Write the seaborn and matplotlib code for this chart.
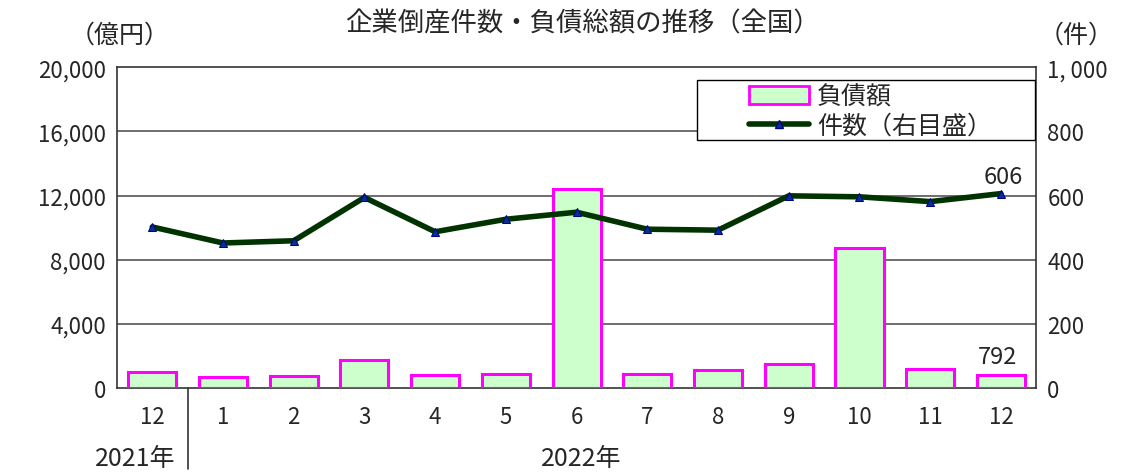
import numpy as np
import pandas as pd
import matplotlib
matplotlib.use("Agg")
import matplotlib.pyplot as plt
import seaborn as sns
from matplotlib.patches import Patch, Rectangle
from matplotlib.lines import Line2D

months = ["12", "1", "2", "3", "4", "5", "6", "7", "8", "9", "10", "11", "12"]
debt = [980, 700, 750, 1725, 830, 900, 12400, 870, 1120, 1475, 8700, 1180, 792]
counts = [502, 452, 459, 594, 487, 526, 548, 495, 492, 599, 596, 581, 606]
left_ticks = [0, 4000, 8000, 12000, 16000, 20000]
right_ticks = [0, 200, 400, 600, 800, 1000]

sns.set_theme(style="white")
plt.rcParams['font.family'] = ['Noto Sans CJK JP', 'DejaVu Sans']

df = pd.DataFrame({"month": [f"{i}" for i in range(len(months))], "debt": debt,
                   "pos": np.arange(len(months)), "count": counts})

fig = plt.figure(figsize=(11.35, 4.77), dpi=100)
ax = fig.add_axes([0.103, 0.1845, 0.810, 0.6725])

sns.barplot(data=df, x="month", y="debt", ax=ax, color="#CCFFCC", width=0.68,
            edgecolor="#FF00FF", linewidth=2.2, saturation=1, zorder=3)
ax.set_xlim(-0.5, len(months) - 0.5)
ax.set_ylim(0, 20000)
ax.set_yticks(left_ticks)
ax.set_yticklabels([f"{v:,}" for v in left_ticks], fontsize=16)
ax.set_xticks(range(len(months)))
ax.set_xticklabels(months, fontsize=16)
ax.set_xlabel("")
ax.set_ylabel("")
for v in left_ticks[1:-1]:
    ax.axhline(v, color="#555555", lw=1.2, zorder=1)
for s in ax.spines.values():
    s.set_color("#333333")
    s.set_linewidth(1.2)
ax.tick_params(axis="y", length=0, pad=8)
ax.tick_params(axis="x", length=0, pad=12)

ax2 = ax.twinx()
sns.lineplot(data=df, x="pos", y="count", ax=ax2, color="#003300", lw=4,
             marker="^", markersize=6, markerfacecolor="#003399",
             markeredgecolor="#000080", zorder=5)
ax2.set_ylim(0, 1000)
ax2.set_yticks(right_ticks)
ax2.set_yticklabels([f"{v:,}".replace(",", ", ") for v in right_ticks], fontsize=16)
ax2.set_ylabel("")
ax2.set_xlabel("")
ax2.tick_params(axis="y", length=0, pad=8)
for s in ax2.spines.values():
    s.set_visible(False)
ax2.set_xlim(-0.5, len(months) - 0.5)

ax2.text(len(months) - 1 + 0.03, counts[-1] + 18, f"{counts[-1]}", ha="center", va="bottom", fontsize=17)
ax.text(len(months) - 1 - 0.05, debt[-1] + 450, f"{debt[-1]}", ha="center", va="bottom", fontsize=17)

# legend frame
ax2.add_patch(Rectangle((0.631, 0.773), 0.368, 0.186, transform=ax2.transAxes,
                        facecolor="white", edgecolor="black", lw=1.0, zorder=9))
handles = [Patch(facecolor="#CCFFCC", edgecolor="#FF00FF", linewidth=2),
           Line2D([0], [0], color="#003300", lw=4, marker="^", markersize=6,
                  markerfacecolor="#003399", markeredgecolor="#000080")]
leg = ax2.legend(handles, ["負債額", "件数（右目盛）"], loc="upper left",
                 bbox_to_anchor=(0.688, 0.948), fontsize=18, frameon=False,
                 borderpad=0.0, labelspacing=0.1, handlelength=2.4, handletextpad=0.3,
                 borderaxespad=0)
leg.set_zorder(10)

fig.text(0.513, 0.95, "企業倒産件数・負債総額の推移（全国）", ha="center", va="center", fontsize=19)
fig.text(0.105, 0.925, "（億円）", ha="center", va="center", fontsize=18)
fig.text(0.948, 0.925, "（件）", ha="center", va="center", fontsize=18)
fig.text(0.119, 0.01, "2021年", ha="center", va="bottom", fontsize=18)
fig.text(0.512, 0.01, "2022年", ha="center", va="bottom", fontsize=18)
fig.add_artist(Line2D([188 / 1135, 188 / 1135], [1 - 389 / 477, 1 - 470 / 477],
                      color="#333333", lw=1.2, transform=fig.transFigure))

fig.savefig("out.png", dpi=100)
